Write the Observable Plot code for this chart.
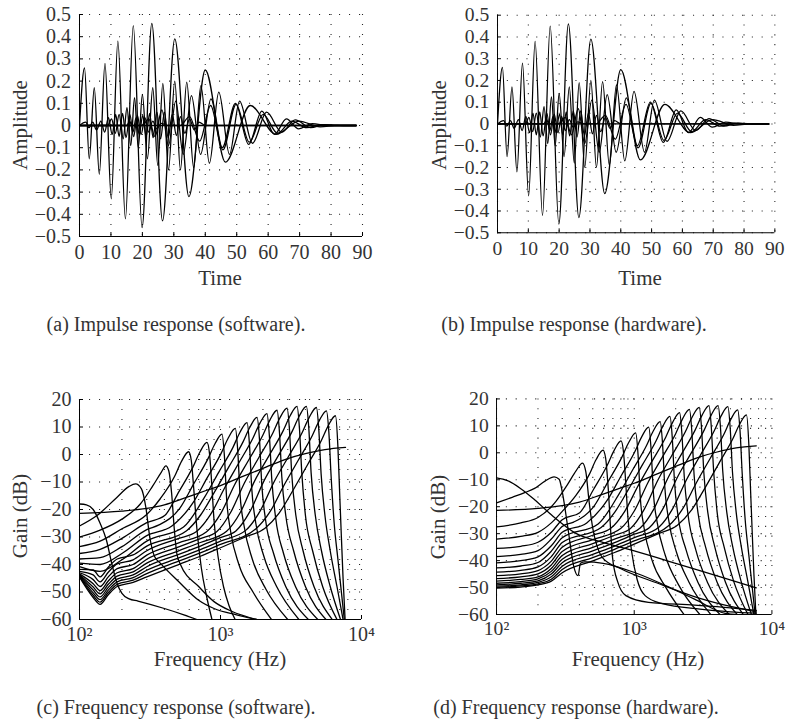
<!DOCTYPE html>
<html><head><meta charset="utf-8">
<script src="https://cdn.jsdelivr.net/npm/d3@7"></script>
<script src="https://cdn.jsdelivr.net/npm/@observablehq/plot@0.6"></script>
<style>
body{margin:0;background:#fff;}
#wrap{position:relative;width:792px;height:721px;font-family:"Liberation Serif","DejaVu Serif",serif;color:#333;overflow:hidden;}
.panel{position:absolute;}
.lbl{position:absolute;font-size:21px;white-space:nowrap;transform:translate(-50%,-50%);}
.ylbl{transform:translate(-50%,-50%) rotate(-90deg);}
.cap{position:absolute;font-size:20px;white-space:nowrap;transform:translate(-50%,-50%);}
</style></head><body><div id="wrap"></div>
<script>
// ---------- ticks ----------
const timeTicks = [0,10,20,30,40,50,60,70,80,90];
const ampTicks = [-0.5,-0.4,-0.3,-0.2,-0.1,0,0.1,0.2,0.3,0.4,0.5];
const freqTicks = [100,1000,10000];
const freqTickLabels = ["10\u00B2","10\u00B3","10\u2074"];
const freqMinor = [200,300,400,500,600,700,800,900,2000,3000,4000,5000,6000,7000,8000,9000];
const gainTicks = [-60,-50,-40,-30,-20,-10,0,10,20];

// ---------- impulse responses (time, amplitude) ----------
const impA = [[0,0],[1.6,0.26],[3.1,-0.15],[4.7,0.17],[6.3,-0.22],[8.1,0.28],[10.1,-0.33],[12.2,0.38],[14.6,-0.42],[17.1,0.45],[19.9,-0.46],[23,0.46],[26.4,-0.43],[30.3,0.39],[34.8,-0.32],[40,0.25],[46.4,-0.165],[54.3,0.09],[62.5,-0.04],[69.8,0.02],[76.5,-0.006],[82,0],[88,0]];
const impB = [[0,0],[9,0],[10.2,0.03],[11.4,-0.035],[12.6,0.05],[13.9,-0.06],[15.1,0.08],[16.3,-0.09],[17.5,0.125],[18.7,-0.1],[20,0.14],[21.6,-0.15],[23.3,0.17],[24.9,-0.18],[26.5,0.19],[28.3,-0.2],[30.3,0.2],[32.1,-0.2],[34.1,0.195],[36.3,-0.19],[38.6,0.18],[41.3,-0.17],[44.3,0.15],[47.7,-0.13],[50.9,0.11],[55,-0.08],[59.5,0.06],[64.3,-0.03],[68.6,0.025],[73.5,-0.01],[78,0.004],[84,0],[88,0]];
const impC = [[0,0],[2,0.015],[3,-0.01],[4.2,0.015],[5.4,-0.02],[6.8,0.02],[8,-0.03],[9.2,0.035],[10.4,-0.04],[11.5,0.05],[12.6,-0.05],[13.7,0.055],[14.8,-0.055],[16,0.05],[17.2,-0.05],[18.4,0.045],[19.6,-0.04],[20.8,0.035],[22,-0.03],[23.3,0.02],[24.6,-0.015],[26,0.01],[28,0],[88,0]];
const impE = [[0,0],[20,0],[22,0.03],[24,-0.05],[26.2,0.07],[28.3,-0.09],[30.6,0.11],[33,-0.13],[35.6,0.135],[38.5,-0.13],[41.8,0.12],[45.6,-0.11],[49.8,0.095],[54,-0.075],[58.4,0.05],[63,-0.035],[67.5,0.02],[72.2,-0.01],[77,0.004],[82,0],[88,0]];
const impF = [[0,0],[32,0],[35,0.04],[38.2,-0.07],[41.7,0.09],[45.4,-0.1],[49.6,0.1],[53.8,-0.085],[58,0.065],[62,-0.04],[65.8,0.03],[69.7,-0.015],[74,0.008],[79,0],[88,0]];
const impG = [[0,0],[15,0],[16,0.02],[17,-0.03],[18,0.035],[19,-0.04],[20.1,0.045],[21.2,-0.05],[22.3,0.055],[23.4,-0.055],[24.6,0.06],[25.8,-0.06],[27,0.06],[28.2,-0.055],[29.5,0.05],[30.8,-0.045],[32.1,0.04],[33.5,-0.035],[35,0.03],[36.5,-0.02],[38,0.015],[40,0],[88,0]];
const impulseCurves = [impA, impB, impC, impE, impF, impG];

// ---------- frequency responses (Hz, dB) ----------
const gainBroad = [[100,-21.4],[200,-20.6],[300,-19.6],[400,-18.3],[580,-15.5],[800,-13],[1000,-11.3],[1500,-7.6],[2100,-4.6],[3000,-1.5],[4000,0.3],[5500,1.8],[7700,2.6]];
const swLow = [[100,-18],[112,-18.3],[125,-20],[140,-25],[155,-31],[170,-40],[185,-47],[200,-50.5],[225,-52.5],[260,-53.3],[400,-56],[550,-58.3],[680,-60]];
const sw1 = [[100,-26],[133,-22.2],[184,-15.6],[225,-11.6],[250,-10.7],[275,-12.5],[295,-19],[315,-30],[340,-37],[374,-39.5],[500,-46],[700,-53],[900,-56],[1300,-58.3],[1800,-60]];
const sw2 = [[100,-30],[140,-27.5],[200,-23.5],[270,-18],[330,-11.5],[380,-6.5],[410,-4.1],[430,-6],[450,-14],[470,-27],[490,-36],[520,-40],[700,-48],[900,-53.5],[1200,-57],[1800,-60]];
const sw3 = [[100,-33.5],[140,-31.5],[200,-27],[297,-22],[375,-16],[472,-8],[529,-2.5],[594,1],[620,-2],[645,-12],[680,-27],[730,-41],[800,-52],[870,-60]];
const sw4 = [[100,-36],[140,-34.5],[200,-30.5],[300,-24.8],[402,-22.2],[506,-13.6],[637,-4.6],[715,0.9],[802,4.4],[835,0.5],[865,-10],[900,-24],[960,-37],[1050,-48],[1150,-55],[1270,-60]];
const hwLow = [[100,-9.3],[120,-10.3],[150,-13.3],[189,-17.4],[250,-23],[384,-30.1],[600,-33.3],[1000,-36.4],[2000,-41],[4000,-45.7],[7700,-50.1]];
const hw1 = [[100,-18.6],[130,-16.5],[160,-14.8],[189,-13.2],[225,-10.5],[262,-8.9],[285,-9.8],[300,-14.4],[330,-28],[364,-42.2],[391,-45.6],[407,-41],[440,-40.5],[594,-41],[1028,-44.6],[2000,-51],[2740,-54.3],[4700,-59.7],[5500,-60]];
const hw2 = [[100,-27.5],[150,-26],[200,-24],[250,-20],[270,-18],[330,-11.5],[380,-6.5],[421,-3.8],[445,-7],[470,-18],[500,-28],[533,-34],[594,-39.2],[800,-43],[1500,-48.5],[3000,-54],[5000,-57],[7700,-59]];
const hw3 = [[100,-32],[150,-31],[200,-29.5],[250,-26],[297,-22],[375,-16],[472,-8],[529,-2.5],[594,1],[620,-2],[645,-12],[695,-38.6],[760,-48],[870,-53],[1270,-55.5],[2740,-56.5],[5000,-57.5],[7700,-58.5]];
const hw4 = [[100,-35.5],[150,-34.7],[200,-33.2],[250,-29.5],[300,-24.8],[402,-22.2],[506,-13.6],[637,-4.6],[715,0.9],[802,4.4],[835,0.5],[865,-10],[900,-24],[960,-37],[1050,-47],[1200,-53],[1600,-56],[3000,-58],[5000,-59],[7700,-59.5]];
const swLowParts = [
  [[100,-38],[140,-37.5],[200,-33.5]],
  [[100,-39.5],[140,-40],[200,-36]],
  [[100,-40.8],[140,-42.5],[200,-38.3]],
  [[100,-41.8],[125,-42],[140,-44.5],[160,-41],[185,-38],[240,-36.5]],
  [[100,-42.5],[125,-43.8],[140,-46.3],[160,-42.8],[185,-39.8],[240,-38.3]],
  [[100,-43],[125,-45.5],[140,-48],[160,-44.5],[185,-41.5],[240,-40]],
  [[100,-43.4],[125,-47],[140,-49.5],[160,-46],[185,-43],[240,-41.5]],
  [[100,-43.7],[125,-48.2],[140,-50.7],[160,-47.2],[185,-44.2],[240,-42.7]],
  [[100,-44],[125,-49.3],[140,-51.8],[160,-48.3],[185,-45.3],[240,-43.8]],
  [[100,-44.2],[125,-50.3],[140,-52.8],[160,-49.3],[185,-46.3],[240,-44.8]],
  [[100,-44.4],[125,-51.2],[140,-53.7],[160,-50.2],[185,-47.2],[240,-45.7]],
  [[100,-44.6],[125,-52],[140,-54.5],[160,-51],[185,-48],[240,-46.5]]
];
const hwLowParts = [
  [[100,-38.5],[150,-37.7],[200,-36.3],[250,-32]],
  [[100,-40.8],[150,-40],[200,-38.6],[250,-34.5]],
  [[100,-42.7],[150,-42],[200,-40.7],[250,-36.5]],
  [[100,-44.3],[150,-43.6],[200,-42.3],[250,-38.5]],
  [[100,-45.6],[150,-44.9],[200,-43.7],[250,-40.2]],
  [[100,-46.7],[150,-46],[200,-44.9],[250,-41.6]],
  [[100,-47.6],[150,-47],[200,-46],[250,-42.9]],
  [[100,-48.4],[150,-47.8],[200,-46.8],[250,-44]],
  [[100,-49],[150,-48.4],[200,-47.5],[250,-45]],
  [[100,-49.5],[150,-49],[200,-48.1],[250,-46]],
  [[100,-49.9],[150,-49.4],[200,-48.6],[250,-46.9]],
  [[100,-50.2],[150,-49.8],[200,-49],[250,-47.6]]
];
const highParts = [
  [[300,-27.3],[363,-25.7],[514,-19.6],[647,-10.6],[814,-1.6],[914,3.9],[1025,7.4],[1066,-0.6],[1107,-16.6],[1180,-28],[1350,-40],[1700,-50],[2300,-60]],
  [[300,-29.5],[452,-26],[639,-17.5],[804,-8.5],[1012,0.5],[1135,6],[1274,9.5],[1325,1.5],[1376,-14.5],[1470,-26],[1680,-38],[2100,-49],[3000,-60]],
  [[300,-31.5],[547,-26.4],[773,-15.4],[973,-6.4],[1226,2.6],[1375,8.1],[1543,11.6],[1605,3.6],[1666,-12.4],[1780,-25],[2030,-37],[2500,-48],[3600,-60]],
  [[300,-33.3],[575,-27.7],[723,-22],[910,-13.5],[1146,-4.5],[1442,4.5],[1619,10],[1816,13.5],[1890,5.5],[1960,-10.5],[2090,-24],[2380,-36],[2900,-48],[4200,-60]],
  [[300,-35],[500,-30.6],[676,-28],[851,-21.8],[1071,-12.1],[1348,-3.1],[1697,5.9],[1905,11.4],[2137,14.9],[2220,7],[2310,-9],[2460,-23],[2800,-36],[3400,-48],[4900,-60]],
  [[300,-36.6],[500,-32.2],[797,-28.1],[1003,-21.5],[1262,-10.9],[1589,-1.9],[2000,7.1],[2244,12.6],[2518,16.1],[2620,8],[2720,-8],[2900,-22],[3300,-35],[4000,-48],[5600,-60]],
  [[300,-38.1],[500,-33.7],[720,-30.6],[939,-28.1],[1182,-21],[1487,-10.1],[1871,-1.1],[2356,7.9],[2643,13.4],[2966,16.9],[3085,8.9],[3200,-7],[3420,-22],[3850,-35],[4600,-48],[6200,-60]],
  [[300,-39.5],[500,-35.1],[720,-32],[1105,-27.9],[1391,-20.8],[1751,-9.5],[2204,-0.5],[2774,8.5],[3113,14],[3493,17.5],[3630,9.5],[3770,-6.5],[4000,-22],[4500,-35],[5300,-48],[6700,-60]],
  [[300,-40.8],[500,-36.4],[720,-33.3],[1000,-30.2],[1286,-27.8],[1619,-20.7],[2038,-9.5],[2565,-0.5],[3229,8.5],[3623,14],[4065,17.5],[4230,9.5],[4390,-6.5],[4700,-22],[5200,-35],[6000,-48],[7100,-60]],
  [[300,-42.1],[500,-37.7],[720,-34.6],[1000,-31.5],[1516,-27.5],[1908,-20.6],[2401,-9.9],[3022,-0.9],[3805,8.1],[4269,13.6],[4790,17.1],[4980,9],[5170,-7],[5500,-22],[6000,-35],[6700,-48],[7400,-60]],
  [[300,-43.3],[500,-38.9],[720,-35.8],[1000,-32.7],[1785,-27],[2247,-20.8],[2828,-11.1],[3560,-2.1],[4481,6.9],[5028,12.4],[5642,15.9],[5870,8],[6090,-8],[6400,-25],[6800,-38],[7200,-50],[7550,-60]],
  [[300,-44.5],[500,-40.1],[720,-37],[1000,-33.9],[1500,-30],[2069,-26.8],[2604,-21.3],[3277,-12.9],[4124,-3.9],[5192,5.1],[5826,10.6],[6537,14.1],[6800,3],[7000,-14],[7200,-30],[7400,-45],[7650,-60]]
];

const swCurves = [swLow, gainBroad, sw1, sw2, sw3, sw4, ...swLowParts.map((p,i)=>p.concat(highParts[i]))];
const hwCurves = [hwLow, gainBroad, hw1, hw2, hw3, hw4, ...hwLowParts.map((p,i)=>p.concat(highParts[i]))];

// ---------- drawing ----------
const wrap = document.getElementById("wrap");
const FONT = "'Liberation Serif','DejaVu Serif',serif";
const dots = {stroke:"#000", strokeOpacity:0.85, strokeWidth:1.1, strokeDasharray:"1.1,8.9"};
const fmtNum = v => v === 0 ? "0" : (Number.isInteger(v) ? String(v) : v.toFixed(1)).replace("-", "\u2212");

function place(svg, left, top) {
  const d = document.createElement("div");
  d.className = "panel"; d.style.left = left + "px"; d.style.top = top + "px";
  d.appendChild(svg); wrap.appendChild(d);
}
function text(cls, str, x, y) {
  const d = document.createElement("div");
  d.className = cls; d.textContent = str;
  d.style.left = x + "px"; d.style.top = y + "px";
  wrap.appendChild(d);
}

function timePanel(ml, mr, mt, mb) {
  return Plot.plot({
    width: 400, height: 300, marginLeft: ml, marginRight: mr, marginTop: mt, marginBottom: mb,
    x: {type: "linear", domain: [timeTicks[0], timeTicks[timeTicks.length-1]]},
    y: {type: "linear", domain: [ampTicks[0], ampTicks[ampTicks.length-1]]},
    style: {fontFamily: FONT, fontSize: "20px", color: "#333", background: "transparent", overflow: "visible"},
    marks: [
      Plot.gridX(timeTicks, dots),
      Plot.gridY(ampTicks, dots),
      ...impulseCurves.map(c => Plot.line(c, {x: d => d[0], y: d => d[1], curve: "monotone-x", stroke: "#000", strokeWidth: 1.3, clip: true})),
      Plot.ruleX([timeTicks[0]], {stroke: "#000", strokeWidth: 1}),
      Plot.ruleY([ampTicks[0]], {stroke: "#000", strokeWidth: 1}),
      Plot.axisX(timeTicks, {tickSize: -4, tickPadding: 12.5, tickFormat: fmtNum, label: null, stroke: "#000"}),
      Plot.axisY(ampTicks, {tickSize: -4, tickPadding: 12.5, tickFormat: fmtNum, label: null, stroke: "#000"})
    ]
  });
}

function freqPanel(curves, ml, mr, mt, mb) {
  return Plot.plot({
    width: 400, height: 300, marginLeft: ml, marginRight: mr, marginTop: mt, marginBottom: mb,
    x: {type: "log", domain: [freqTicks[0], freqTicks[freqTicks.length-1]]},
    y: {type: "linear", domain: [gainTicks[0], gainTicks[gainTicks.length-1]]},
    style: {fontFamily: FONT, fontSize: "20px", color: "#333", background: "transparent", overflow: "visible"},
    marks: [
      Plot.gridX(freqTicks.concat(freqMinor), dots),
      Plot.gridY(gainTicks, dots),
      ...curves.map(c => Plot.line(c, {x: d => d[0], y: d => d[1], curve: "monotone-x", stroke: "#000", strokeWidth: 1.3, clip: true})),
      Plot.ruleX([freqTicks[0]], {stroke: "#000", strokeWidth: 1}),
      Plot.ruleY([gainTicks[0]], {stroke: "#000", strokeWidth: 1}),
      Plot.axisX(freqTicks, {tickSize: -4, tickPadding: 11, tickFormat: v => freqTickLabels[freqTicks.indexOf(v)], label: null, stroke: "#000"}),
      Plot.axisY(gainTicks, {tickSize: -4, tickPadding: 12, tickFormat: fmtNum, label: null, stroke: "#000"})
    ]
  });
}

place(timePanel(79, 38, 14, 64), 0, 0);
place(timePanel(99, 18, 15, 63), 400, 0);
place(freqPanel(swCurves, 79, 39, 29, 51), 0, 370);
place(freqPanel(hwCurves, 98, 21, 29, 51), 400, 370);

text("lbl ylbl", "Amplitude", 20, 125);
text("lbl", "Time", 220, 278);
text("lbl ylbl", "Amplitude", 439, 125);
text("lbl", "Time", 640, 278);
text("lbl ylbl", "Gain (dB)", 20, 516);
text("lbl", "Frequency (Hz)", 220, 659);
text("lbl ylbl", "Gain (dB)", 438, 517);
text("lbl", "Frequency (Hz)", 638, 659);

text("cap", "(a) Impulse response (software).", 176, 324);
text("cap", "(b) Impulse response (hardware).", 574, 324);
text("cap", "(c) Frequency response (software).", 176, 707);
text("cap", "(d) Frequency response (hardware).", 576, 707);
</script>
</body></html>
